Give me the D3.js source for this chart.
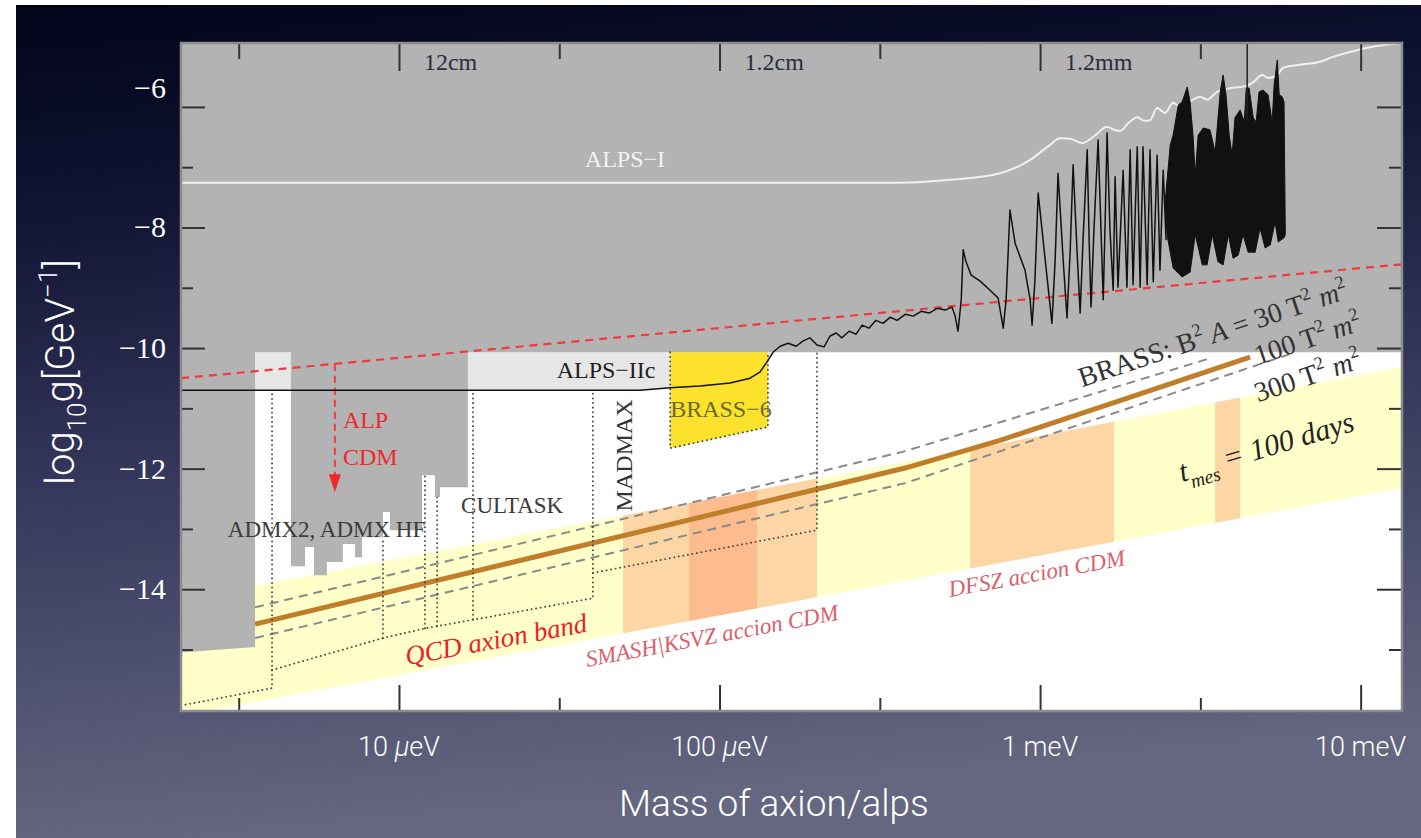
<!DOCTYPE html>
<html><head><meta charset="utf-8">
<script src="https://cdn.jsdelivr.net/npm/d3@7"></script>
<style>html,body{margin:0;padding:0;overflow:hidden;background:#fff}</style>
</head><body>
<script>
// ---------------- DATA ----------------
// x values: log10(mass / μeV); y values: log10(g / GeV^-1)
const massDomain = [0.320, 4.129];
const gDomain = [-16.02, -4.94];
const massTicksMajor = [1, 2, 3, 4];
const massTicksMinor = [0.5, 1.5, 2.5, 3.5];
const massTickLabels = ["10 μeV", "100 μeV", "1 meV", "10 meV"];
const wavelengthLabels = ["12cm", "1.2cm", "1.2mm"];
const gTicksMajor = [-14, -12, -10, -8, -6];
const gTicksMinor = [-15, -13, -11, -9, -7];
const gTickLabels = ["−14", "−12", "−10", "−8", "−6"];

// excluded (grey) region, incl. ADMX / ADMX HF staircase
const excluded = [[0.320,-4.94],[4.129,-4.94],[4.129,-10.07],[1.215,-10.07],[1.215,-12.31],[1.128,-12.31],[1.128,-12.47],[1.112,-12.47],[1.112,-12.11],[1.072,-12.11],[1.072,-13.02],[0.972,-13.02],[0.972,-12.72],[0.950,-12.72],[0.950,-13.14],[0.885,-13.14],[0.885,-13.47],[0.863,-13.47],[0.863,-13.25],[0.825,-13.25],[0.825,-13.55],[0.775,-13.55],[0.775,-13.77],[0.735,-13.77],[0.735,-13.30],[0.707,-13.30],[0.707,-13.62],[0.663,-13.62],[0.663,-10.07],[0.551,-10.07],[0.551,-14.96],[0.320,-15.05]];

// ALPS-IIc / ALPS-II sensitivity (black) curve
const alpsII = [[0.320,-10.70],[1.752,-10.70],[1.846,-10.66],[1.939,-10.63],[2.033,-10.58],[2.095,-10.50],[2.126,-10.40],[2.148,-10.23],[2.167,-10.07],[2.189,-9.97],[2.214,-9.92],[2.239,-9.97],[2.261,-9.88],[2.282,-9.83],[2.304,-9.95],[2.326,-9.98],[2.345,-9.80],[2.364,-9.75],[2.382,-9.83],[2.404,-9.72],[2.426,-9.77],[2.445,-9.62],[2.466,-9.67],[2.488,-9.54],[2.510,-9.59],[2.532,-9.49],[2.554,-9.54],[2.579,-9.44],[2.604,-9.47],[2.629,-9.39],[2.654,-9.42],[2.679,-9.34],[2.704,-9.37],[2.725,-9.32],[2.735,-9.47],[2.744,-9.72],[2.754,-9.20],[2.760,-8.37],[2.769,-8.57],[2.785,-8.79],[2.813,-8.89],[2.844,-9.04],[2.869,-9.17],[2.878,-9.45],[2.885,-9.67],[2.894,-9.20],[2.906,-7.71],[2.922,-8.26],[2.953,-8.71],[2.969,-9.20],[2.975,-9.62],[2.984,-8.87],[2.994,-7.43],[3.016,-8.54],[3.037,-9.59],[3.047,-8.54],[3.056,-7.10],[3.072,-8.54],[3.084,-9.50],[3.094,-8.37],[3.103,-6.96],[3.115,-8.37],[3.125,-9.42],[3.134,-8.21],[3.147,-6.71],[3.153,-8.21],[3.159,-9.32],[3.168,-8.04],[3.181,-6.55],[3.190,-8.04],[3.197,-9.20],[3.203,-7.88],[3.209,-6.43],[3.218,-8.04],[3.228,-9.04],[3.234,-7.16],[3.243,-8.99],[3.259,-7.05],[3.271,-8.99],[3.281,-6.71],[3.290,-8.95],[3.303,-6.66],[3.312,-8.99],[3.321,-6.66],[3.334,-8.95],[3.343,-6.71],[3.353,-8.90],[3.365,-6.80],[3.374,-8.71],[3.384,-7.05],[3.393,-8.21]];
// dense oscillation envelope (upper then lower)
const denseTop = [[3.390,-7.58],[3.406,-6.63],[3.415,-6.47],[3.431,-5.97],[3.443,-5.92],[3.459,-5.67],[3.468,-5.92],[3.477,-6.47],[3.484,-7.13],[3.493,-6.47],[3.509,-6.35],[3.530,-6.38],[3.546,-6.75],[3.562,-5.75],[3.571,-5.47],[3.580,-5.80],[3.590,-6.47],[3.599,-6.80],[3.608,-6.18],[3.624,-6.05],[3.637,-6.25],[3.643,-5.69],[3.652,-5.69],[3.665,-6.18],[3.674,-6.25],[3.683,-5.75],[3.696,-5.72],[3.711,-5.80],[3.724,-6.25],[3.730,-5.64],[3.740,-5.22],[3.746,-5.80],[3.755,-5.83],[3.761,-5.92],[3.765,-8.12]];
const denseBottom = [[3.761,-8.17],[3.743,-8.24],[3.733,-7.91],[3.718,-8.29],[3.702,-8.34],[3.686,-8.01],[3.671,-8.41],[3.649,-8.41],[3.633,-8.12],[3.618,-8.46],[3.602,-8.51],[3.587,-8.12],[3.571,-8.62],[3.555,-8.57],[3.537,-8.12],[3.521,-8.62],[3.506,-8.62],[3.484,-8.12],[3.468,-8.74],[3.443,-8.82],[3.415,-8.67],[3.396,-8.12]];
const denseSpike = [[3.646,-6.20],[3.646,-4.95]];

// ALPS-I limit (white)
const alpsI = [[0.320,-7.26],[2.563,-7.26],[2.719,-7.21],[2.875,-7.10],[2.969,-6.88],[3.031,-6.63],[3.062,-6.52],[3.094,-6.53],[3.131,-6.60],[3.172,-6.47],[3.209,-6.33],[3.231,-6.38],[3.250,-6.40],[3.275,-6.27],[3.303,-6.17],[3.325,-6.23],[3.343,-6.22],[3.365,-6.02],[3.390,-6.10],[3.415,-5.93],[3.437,-6.00],[3.477,-5.88],[3.499,-5.83],[3.521,-5.88],[3.552,-5.75],[3.593,-5.69],[3.624,-5.67],[3.649,-5.64],[3.665,-5.59],[3.693,-5.47],[3.711,-5.52],[3.740,-5.47],[3.758,-5.35],[3.811,-5.30],[3.874,-5.25],[3.914,-5.17],[3.967,-5.09],[4.020,-5.02],[4.076,-4.97],[4.129,-4.94]];

// ALP CDM (red dashed) and arrow
const alpCDM = [[0.320,-10.50],[4.129,-8.61]];
const alpArrow = [[0.800,-10.26],[0.800,-12.39]];

// QCD axion band edges
const bandUpper = [[0.320,-14.18],[4.129,-10.31]];
const bandLower = [[0.320,-16.10],[4.129,-12.32]];
// CDM mass windows (orange)
const cdmLight = [[1.699,2.304],[2.782,3.231],[3.546,3.624]];
const cdmDark = [[1.905,2.117]];

// BRASS projections
const brass30 = [[0.551,-14.30],[2.579,-11.71],[3.530,-10.17]];
const brass100 = [[0.551,-14.58],[2.579,-11.99],[2.875,-11.53],[3.228,-10.91],[3.655,-10.15]];
const brass300 = [[0.551,-14.81],[2.579,-12.24],[3.796,-10.07]];
const brass6 = [[1.846,-10.07],[2.151,-10.07],[2.151,-11.31],[1.846,-11.66]];
const brass6Border = [[1.846,-10.07],[1.846,-11.66],[2.151,-11.31],[2.151,-10.07]];

// dotted sensitivity outlines (ADMX, ADMX HF, CULTASK, MADMAX)
const dotted = [
  [[0.320,-15.93],[0.604,-15.64],[0.604,-10.70]],
  [[0.604,-15.34],[0.950,-14.81],[1.081,-14.65],[1.605,-14.15],[1.605,-10.70]],
  [[0.950,-14.81],[0.950,-13.14]],
  [[1.081,-14.65],[1.081,-12.11]],
  [[1.119,-14.61],[1.119,-12.47]],
  [[1.231,-14.50],[1.231,-10.70]],
  [[1.605,-13.73],[2.304,-13.02],[2.304,-10.07]]
];

// ---------------- DRAW ----------------
const W = 1421, H = 838;
const L = 181, R = 1402, T = 43, B = 711;
const serif = "'Liberation Serif','Times New Roman',serif";
const sans = "Roboto,'Liberation Sans',Arial,sans-serif";

const x = d3.scaleLinear().domain(massDomain).range([L, R]);
const y = d3.scaleLinear().domain(gDomain).range([B, T]);
const line = d3.line().x(d => x(d[0])).y(d => y(d[1]));
const poly = pts => line(pts) + "Z";

const svg = d3.select("body").append("svg").attr("width", W).attr("height", H)
  .style("display", "block");
const defs = svg.append("defs");
const grad = defs.append("linearGradient").attr("id", "bg")
  .attr("x1", 0).attr("y1", 0).attr("x2", 0.15).attr("y2", 1);
[[0, "#02041a"], [0.25, "#111433"], [0.55, "#33355a"], [0.8, "#4f5170"], [1, "#65667f"]]
  .forEach(([o, c]) => grad.append("stop").attr("offset", o).attr("stop-color", c));
defs.append("clipPath").attr("id", "plotclip").append("rect")
  .attr("x", L).attr("y", T).attr("width", R - L).attr("height", B - T);
defs.append("clipPath").attr("id", "bandclip").append("path")
  .attr("d", poly(bandUpper.concat(bandLower.slice().reverse())));

svg.append("rect").attr("width", W).attr("height", H).attr("fill", "#fff");
svg.append("rect").attr("x", 16).attr("y", 5).attr("width", W - 16).attr("height", H - 5).attr("fill", "url(#bg)");

const g = svg.append("g").attr("clip-path", "url(#plotclip)");
g.append("rect").attr("x", L).attr("y", T).attr("width", R - L).attr("height", B - T).attr("fill", "#fff");

// QCD band
g.append("path").attr("d", poly(bandUpper.concat(bandLower.slice().reverse()))).attr("fill", "#ffffc9");
const ob = g.append("g").attr("clip-path", "url(#bandclip)");
ob.selectAll("rect.l").data(cdmLight).join("rect")
  .attr("x", d => x(d[0])).attr("width", d => x(d[1]) - x(d[0]))
  .attr("y", T).attr("height", B - T).attr("fill", "#fdd6a6");
ob.selectAll("rect.d").data(cdmDark).join("rect")
  .attr("x", d => x(d[0])).attr("width", d => x(d[1]) - x(d[0]))
  .attr("y", T).attr("height", B - T).attr("fill", "#fcbc8e");

// ALPS-IIc projected region (light grey)
g.append("path").attr("d", poly([[massDomain[0], -10.07]].concat(alpsII.slice(0, 9).reverse())))
  .attr("fill", "#e6e6e6");

// BRASS lines
[brass30, brass300].forEach(d => g.append("path").attr("d", line(d)).attr("fill", "none")
  .attr("stroke", "#8a8a8a").attr("stroke-width", 2).attr("stroke-dasharray", "9,6"));
g.append("path").attr("d", line(brass100)).attr("fill", "none")
  .attr("stroke", "#c07d2a").attr("stroke-width", 5);

// dotted outlines
dotted.forEach(d => g.append("path").attr("d", line(d)).attr("fill", "none")
  .attr("stroke", "#4a4a4a").attr("stroke-width", 1.9).attr("stroke-linecap", "round")
  .attr("stroke-dasharray", "0.1,4.5"));

// excluded region
g.append("path").attr("d", poly(excluded)).attr("fill", "#b3b3b3");

// BRASS-6
g.append("path").attr("d", poly(brass6)).attr("fill", "#fce22c");
g.append("path").attr("d", line(brass6Border)).attr("fill", "none")
  .attr("stroke", "#4a4a4a").attr("stroke-width", 1.9).attr("stroke-linecap", "round")
  .attr("stroke-dasharray", "0.1,4.5");

// ALPS-I
g.append("path").attr("d", line.curve(d3.curveMonotoneX)(alpsI)).attr("fill", "none")
  .attr("stroke", "#efefef").attr("stroke-width", 2);
line.curve(d3.curveLinear);

// ALP CDM
g.append("path").attr("d", line(alpCDM)).attr("fill", "none")
  .attr("stroke", "#f03a3c").attr("stroke-width", 2.2).attr("stroke-dasharray", "8,6");
g.append("path").attr("d", line(alpArrow.map((p, i) => i ? [p[0], p[1] + 0.28] : p))).attr("fill", "none")
  .attr("stroke", "#f03a3c").attr("stroke-width", 2).attr("stroke-dasharray", "7,5");
{
  const tx = x(alpArrow[1][0]), ty = y(alpArrow[1][1]);
  g.append("path").attr("d", `M${tx - 6},${ty - 18}L${tx + 6},${ty - 18}L${tx},${ty}Z`).attr("fill", "#f02a2c");
}

// black ALPS-II curve + dense oscillations
g.append("path").attr("d", line(alpsII)).attr("fill", "none")
  .attr("stroke", "#111").attr("stroke-width", 1.5).attr("stroke-linejoin", "round");
g.append("path").attr("d", poly(denseTop.concat(denseBottom))).attr("fill", "#111")
  .attr("stroke", "#111").attr("stroke-width", 1);
g.append("path").attr("d", line(denseSpike)).attr("stroke", "#222").attr("stroke-width", 1.5);

// ---------- texts in plot ----------
function rich(sel, parts, fs) {
  let shift = 0;
  parts.forEach(([t, k]) => {
    const target = k === "sup" ? -0.42 * fs : (k === "sub" ? 0.3 * fs : 0);
    const ts = sel.append("tspan").text(t).attr("dy", target - shift);
    shift = target;
    if (k === "sup" || k === "sub") ts.attr("font-size", 0.65 * fs);
    if (k === "it") ts.attr("font-style", "italic");
  });
}
function label(px, py, txt, opt) {
  const o = Object.assign({ size: 24, fill: "#333", anchor: "start", rot: 0, italic: false, font: serif }, opt);
  const t = svg.append("text")
    .attr("transform", `translate(${px},${py}) rotate(${o.rot})`)
    .attr("font-family", o.font).attr("font-size", o.size).attr("fill", o.fill)
    .attr("text-anchor", o.anchor).attr("font-style", o.italic ? "italic" : "normal");
  if (typeof txt === "string") t.text(txt); else rich(t, txt, o.size);
  return t;
}
label(x(1.705), y(-7.00), "ALPS−I", { fill: "#f2f2f2", anchor: "middle", size: 24 });
label(x(1.646), y(-10.50), "ALPS−IIc", { fill: "#222", anchor: "middle", size: 24 });
label(x(1.846), y(-11.15), "BRASS−6", { fill: "#6a6a2c", size: 24 });
label(x(1.727), y(-11.78), "MADMAX", { fill: "#333", anchor: "middle", rot: -90, size: 24 });
label(x(1.353), y(-12.74), "CULTASK", { fill: "#3a3a3a", anchor: "middle", size: 23 });
label(x(0.466), y(-13.14), "ADMX2, ADMX HF", { fill: "#3c3c3c", size: 23 });
label(x(0.825), y(-11.33), "ALP", { fill: "#ee2a2c", size: 24 });
label(x(0.825), y(-11.94), "CDM", { fill: "#ee2a2c", size: 24 });
label(x(1.025), y(-15.26), "QCD axion band", { fill: "#ec2028", italic: true, rot: -10.5, size: 27 });
label(x(1.587), y(-15.29), "SMASH|KSVZ accion CDM", { fill: "#d8616b", italic: true, rot: -10.6, size: 23 });
label(x(2.719), y(-14.13), "DFSZ accion CDM", { fill: "#d8616b", italic: true, rot: -10.3, size: 23 });
label(x(3.131), y(-10.65), [["BRASS:  B"], ["2", "sup"], [" "], ["A", "it"], [" = 30 T"], ["2", "sup"], [" "], ["m", "it"], ["2", "sup"]], { fill: "#333", rot: -18.5, size: 28 });
label(x(3.680), y(-10.28), [["100 T"], ["2", "sup"], [" "], ["m", "it"], ["2", "sup"]], { fill: "#333", rot: -18.5, size: 28 });
label(x(3.680), y(-10.90), [["300 T"], ["2", "sup"], [" "], ["m", "it"], ["2", "sup"]], { fill: "#333", rot: -18.5, size: 28 });
label(x(3.443), y(-12.22), [["t"], ["mes", "sub"], [" = 100 days"]], { fill: "#222", italic: true, rot: -16.5, size: 30 });

// ---------- axes ----------
function tickAxis(gen, vals, size, tr) {
  const a = svg.append("g").attr("transform", tr)
    .call(gen.tickValues(vals).tickSize(size).tickFormat(""));
  a.select(".domain").remove();
  a.selectAll(".tick line").attr("stroke", "#333").attr("stroke-width", 2);
}
tickAxis(d3.axisBottom(x), massTicksMajor, -26, `translate(0,${B})`);
tickAxis(d3.axisBottom(x), massTicksMinor, -13, `translate(0,${B})`);
tickAxis(d3.axisTop(x), massTicksMajor, -28, `translate(0,${T})`);
tickAxis(d3.axisTop(x), massTicksMinor, -16, `translate(0,${T})`);
tickAxis(d3.axisLeft(y), gTicksMajor, -24, `translate(${L},0)`);
tickAxis(d3.axisLeft(y), gTicksMinor, -12, `translate(${L},0)`);
tickAxis(d3.axisRight(y), gTicksMajor, -25, `translate(${R},0)`);
tickAxis(d3.axisRight(y), gTicksMinor, -13, `translate(${R},0)`);

svg.append("rect").attr("x", L).attr("y", T).attr("width", R - L).attr("height", B - T)
  .attr("fill", "none").attr("stroke", "#8c8c8c").attr("stroke-width", 2.5);

// top wavelength labels
massTicksMajor.slice(0, 3).forEach((v, i) => {
  svg.append("text").attr("x", x(v) + 25).attr("y", 70)
    .attr("font-family", serif).attr("font-size", 24).attr("fill", "#2c2c3c")
    .text(wavelengthLabels[i]);
});

// bottom tick labels
massTicksMajor.forEach((v, i) => {
  const t = svg.append("text").attr("x", x(v)).attr("y", 756)
    .attr("font-family", sans).attr("font-weight", 300).attr("font-size", 27)
    .attr("fill", "#fff").attr("text-anchor", "middle");
  const parts = massTickLabels[i].split("μ");
  t.append("tspan").text(parts[0]);
  if (parts.length > 1) {
    t.append("tspan").attr("font-style", "italic").text("μ");
    t.append("tspan").text(parts[1]);
  }
});

// left tick labels
gTicksMajor.forEach((v, i) => {
  svg.append("text").attr("x", 166).attr("y", y(v) + 10 + (v === -6 ? -19 : 0))
    .attr("font-family", serif).attr("font-size", 30).attr("fill", "#fff")
    .attr("text-anchor", "end").text(gTickLabels[i]);
});

// axis titles
svg.append("text").attr("x", 774).attr("y", 816).attr("text-anchor", "middle")
  .attr("font-family", sans).attr("font-weight", 300).attr("font-size", 37).attr("fill", "#fff")
  .text("Mass of axion/alps");
{
  const t = svg.append("text").attr("transform", "translate(74,372) rotate(-90)")
    .attr("text-anchor", "middle").attr("font-family", sans).attr("font-weight", 300)
    .attr("font-size", 40).attr("fill", "#fff");
  rich(t, [["log"], ["10", "sub"], ["g"], ["[GeV"], ["−1", "sup"], ["]"]], 40);
}
</script>
</body></html>
